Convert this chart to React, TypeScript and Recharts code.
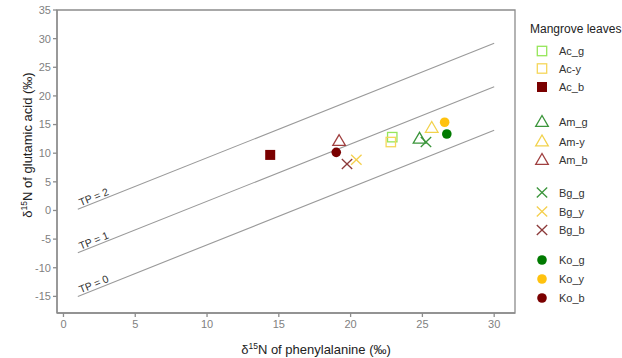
import { ScatterChart, Scatter, XAxis, YAxis, ReferenceArea } from 'recharts';

const X_TICKS = [0, 5, 10, 15, 20, 25, 30];
const Y_TICKS = [-15, -10, -5, 0, 5, 10, 15, 20, 25, 30, 35];

// trophic position reference lines
const tp0 = [{ x: 1, y: -15 }, { x: 30, y: 14 }];
const tp1 = [{ x: 1, y: -7.4 }, { x: 30, y: 21.6 }];
const tp2 = [{ x: 1, y: 0.2 }, { x: 30, y: 29.2 }];
const tpLabels = [
  { x: 2.1, y: 2.4, text: 'TP = 2' },
  { x: 2.1, y: -5.2, text: 'TP = 1' },
  { x: 2.1, y: -12.8, text: 'TP = 0' },
];

const acG = [{ x: 22.9, y: 12.8 }];
const acY = [{ x: 22.8, y: 11.95 }];
const acB = [{ x: 14.4, y: 9.7 }];
const amG = [{ x: 24.8, y: 12.5 }];
const amY = [{ x: 25.65, y: 14.4 }];
const amB = [{ x: 19.2, y: 12.1 }];
const bgG = [{ x: 25.25, y: 11.95 }];
const bgY = [{ x: 20.4, y: 8.85 }];
const bgB = [{ x: 19.75, y: 8.1 }];
const koG = [{ x: 26.7, y: 13.35 }];
const koY = [{ x: 26.55, y: 15.4 }];
const koB = [{ x: 19.0, y: 10.15 }];

type Kind = 'square' | 'squareFill' | 'triangle' | 'cross' | 'circle';

const SERIES: { name: string; data: { x: number; y: number }[]; kind: Kind; color: string }[] = [
  { name: 'Ac_g', data: acG, kind: 'square', color: '#96e65a' },
  { name: 'Ac-y', data: acY, kind: 'square', color: '#f5d65a' },
  { name: 'Ac_b', data: acB, kind: 'squareFill', color: '#7a0000' },
  { name: 'Am_g', data: amG, kind: 'triangle', color: '#3b953b' },
  { name: 'Am-y', data: amY, kind: 'triangle', color: '#f2d24c' },
  { name: 'Am_b', data: amB, kind: 'triangle', color: '#a04040' },
  { name: 'Bg_g', data: bgG, kind: 'cross', color: '#3b953b' },
  { name: 'Bg_y', data: bgY, kind: 'cross', color: '#f5cf4c' },
  { name: 'Bg_b', data: bgB, kind: 'cross', color: '#8c3a3a' },
  { name: 'Ko_g', data: koG, kind: 'circle', color: '#007a00' },
  { name: 'Ko_y', data: koY, kind: 'circle', color: '#ffc20e' },
  { name: 'Ko_b', data: koB, kind: 'circle', color: '#7a0000' },
];

const AXIS = '#8c8c8c';
const TICK = { fill: '#7f7f7f', fontSize: 11 };
const FONT = '"Liberation Sans", Arial, sans-serif';

function marker(kind: Kind, cx: number, cy: number, color: string) {
  switch (kind) {
    case 'square':
      return <rect x={cx - 4.7} y={cy - 4.7} width={9.4} height={9.4} fill="none" stroke={color} strokeWidth={1.3} />;
    case 'squareFill':
      return <rect x={cx - 5} y={cy - 5} width={10} height={10} fill={color} />;
    case 'triangle':
      return (
        <polygon
          points={`${cx},${cy - 6.5} ${cx - 6.3},${cy + 4.3} ${cx + 6.3},${cy + 4.3}`}
          fill="none"
          stroke={color}
          strokeWidth={1.3}
        />
      );
    case 'cross':
      return (
        <g stroke={color} strokeWidth={1.3}>
          <line x1={cx - 5.2} y1={cy - 5} x2={cx + 5.2} y2={cy + 5} />
          <line x1={cx - 5.2} y1={cy + 5} x2={cx + 5.2} y2={cy - 5} />
        </g>
      );
    default:
      return <circle cx={cx} cy={cy} r={4.8} fill={color} />;
  }
}

const LEGEND_Y = [51, 68.5, 87, 122, 141.5, 160, 192.5, 211.5, 230, 260, 279, 298];

function TpLabel(props: any) {
  const { cx, cy, payload } = props;
  return (
    <text
      x={cx}
      y={cy}
      transform={`rotate(-22 ${cx} ${cy})`}
      textAnchor="middle"
      dominantBaseline="central"
      fontSize={10.5}
      fill="#333"
      fontFamily={FONT}
    >
      {payload.text}
    </text>
  );
}

export default function App() {
  return (
    <div style={{ position: 'absolute', left: 0, top: 0, width: 622, height: 358, background: '#fff', fontFamily: FONT }}>
      <ScatterChart width={622} height={358} margin={{ top: 10, right: 107, bottom: 0, left: 0 }}>
        <XAxis
          type="number"
          dataKey="x"
          domain={[-0.45, 31.45]}
          ticks={X_TICKS}
          height={45}
          tick={TICK}
          tickSize={4}
          tickMargin={3}
          stroke={AXIS}
          strokeWidth={1.3}
          allowDataOverflow
        />
        <YAxis
          type="number"
          dataKey="y"
          domain={[-17.9, 35]}
          ticks={Y_TICKS}
          width={57}
          tick={TICK}
          tickSize={4}
          tickMargin={2}
          stroke={AXIS}
          strokeWidth={1.3}
          allowDataOverflow
        />
        <ReferenceArea x1={-0.45} x2={31.45} y1={-17.9} y2={35} fill="none" stroke={AXIS} strokeWidth={1.3} />
        {[tp0, tp1, tp2].map((d, i) => (
          <Scatter
            key={`tp${i}`}
            data={d}
            line={{ stroke: '#9a9a9a', strokeWidth: 1.1 }}
            shape={() => <g />}
            isAnimationActive={false}
          />
        ))}
        <Scatter data={tpLabels} shape={TpLabel} isAnimationActive={false} />
        {SERIES.map(s => (
          <Scatter
            key={s.name}
            name={s.name}
            data={s.data}
            isAnimationActive={false}
            shape={(p: any) => marker(s.kind, p.cx, p.cy, s.color)}
          />
        ))}
      </ScatterChart>
      <svg width={622} height={358} style={{ position: 'absolute', left: 0, top: 0, pointerEvents: 'none' }} fontFamily={FONT}>
        <text x={316} y={354} textAnchor="middle" fontSize={13} fill="#222">
          δ<tspan fontSize={8.5} dy={-5}>15</tspan>
          <tspan dy={5}>N of phenylalanine (‰)</tspan>
        </text>
        <text x={0} y={0} transform="translate(32 145) rotate(-90)" textAnchor="middle" fontSize={13} fill="#222">
          δ<tspan fontSize={8.5} dy={-5}>15</tspan>
          <tspan dy={5}>N of glutamic acid (‰)</tspan>
        </text>
        <text x={530} y={32.5} fontSize={12} fill="#222">Mangrove leaves</text>
        {SERIES.map((s, i) => (
          <g key={s.name}>
            {marker(s.kind, 542, LEGEND_Y[i], s.color)}
            <text x={559} y={LEGEND_Y[i] + 4} fontSize={11} fill="#333">{s.name}</text>
          </g>
        ))}
      </svg>
    </div>
  );
}
